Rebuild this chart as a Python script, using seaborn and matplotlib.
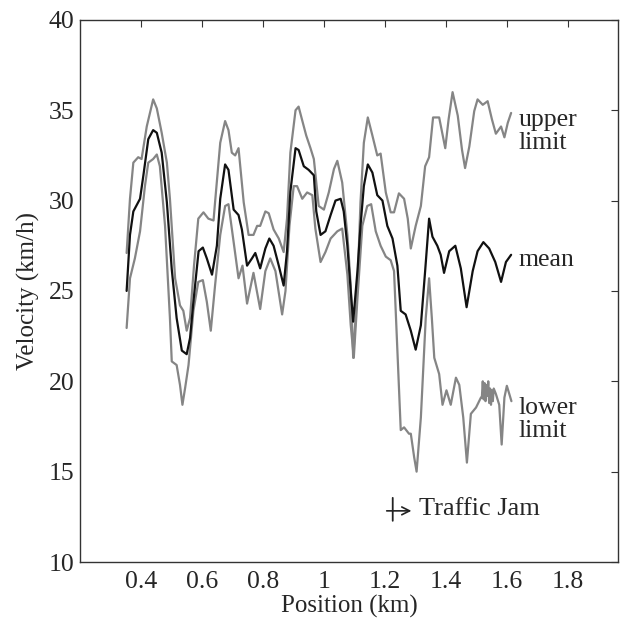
import matplotlib
matplotlib.use("Agg")
import matplotlib.pyplot as plt
import seaborn as sns

# mean velocity along the road
mean_pos = [0.353, 0.364, 0.375, 0.397, 0.408, 0.424, 0.440, 0.452, 0.468, 0.485,
            0.501, 0.517, 0.534, 0.550, 0.561, 0.572, 0.589, 0.603, 0.616, 0.633,
            0.649, 0.660, 0.676, 0.687, 0.704, 0.720, 0.731, 0.748, 0.764, 0.775,
            0.791, 0.808, 0.821, 0.835, 0.852, 0.868, 0.879, 0.890, 0.907, 0.917,
            0.934, 0.950, 0.967, 0.975, 0.989, 1.005, 1.022, 1.038, 1.055, 1.065,
            1.077, 1.088, 1.096, 1.110, 1.120, 1.131, 1.144, 1.159, 1.175, 1.192,
            1.208, 1.225, 1.241, 1.252, 1.268, 1.285, 1.301, 1.318, 1.332, 1.345,
            1.356, 1.372, 1.383, 1.394, 1.411, 1.431, 1.449, 1.468, 1.488, 1.504,
            1.523, 1.542, 1.562, 1.581, 1.597, 1.614]
mean_vel = [25.0, 28.1, 29.4, 30.1, 31.4, 33.4, 33.9, 33.75, 32.65, 29.9,
            26.2, 23.5, 21.7, 21.5, 22.4, 24.4, 27.2, 27.4, 26.8, 25.9,
            27.5, 30.1, 32.0, 31.7, 29.5, 29.2, 28.4, 26.4, 26.8, 27.1,
            26.25, 27.35, 27.9, 27.5, 26.4, 25.3, 27.2, 30.5, 32.9, 32.8,
            31.9, 31.7, 31.4, 29.4, 28.1, 28.3, 29.2, 30.0, 30.1, 29.4,
            27.5, 25.0, 23.3, 26.1, 28.6, 30.8, 32.0, 31.55, 30.3, 30.0,
            28.6, 27.9, 26.4, 23.9, 23.7, 22.8, 21.75, 23.1, 26.1, 29.0,
            28.0, 27.5, 27.0, 26.0, 27.2, 27.5, 26.25, 24.1, 26.1, 27.2,
            27.7, 27.35, 26.6, 25.5, 26.6, 27.0]

# upper limit
upper_pos = [0.353, 0.364, 0.375, 0.391, 0.402, 0.419, 0.440, 0.452, 0.468, 0.485,
             0.495, 0.512, 0.528, 0.539, 0.550, 0.561, 0.574, 0.588, 0.605, 0.621,
             0.638, 0.643, 0.660, 0.676, 0.687, 0.698, 0.709, 0.720, 0.737, 0.753,
             0.769, 0.781, 0.791, 0.808, 0.819, 0.835, 0.852, 0.868, 0.879, 0.890,
             0.907, 0.917, 0.931, 0.942, 0.956, 0.967, 0.983, 1.000, 1.016, 1.033,
             1.044, 1.060, 1.077, 1.088, 1.096, 1.110, 1.120, 1.131, 1.144, 1.159,
             1.175, 1.186, 1.203, 1.219, 1.230, 1.246, 1.263, 1.275, 1.285, 1.301,
             1.318, 1.332, 1.345, 1.358, 1.378, 1.398, 1.409, 1.422, 1.439, 1.453,
             1.463, 1.477, 1.493, 1.504, 1.521, 1.537, 1.551, 1.564, 1.581, 1.592,
             1.603, 1.614]
upper_vel = [27.1, 30.1, 32.1, 32.4, 32.3, 34.1, 35.6, 35.1, 33.75, 32.1,
             30.1, 25.7, 24.2, 23.9, 22.8, 23.5, 26.4, 29.0, 29.35, 29.0,
             28.9, 29.9, 33.2, 34.4, 33.9, 32.65, 32.5, 32.9, 29.9, 28.1,
             28.1, 28.6, 28.6, 29.4, 29.3, 28.4, 27.9, 27.15, 29.0, 32.65,
             35.0, 35.2, 34.3, 33.6, 32.9, 32.3, 29.7, 29.5, 30.45, 31.75,
             32.2, 31.0, 28.1, 25.3, 21.3, 25.3, 29.9, 33.2, 34.6, 33.6,
             32.5, 32.6, 30.45, 29.35, 29.35, 30.4, 30.1, 29.0, 27.35, 28.6,
             29.7, 31.9, 32.4, 34.6, 34.6, 32.9, 34.5, 36.0, 34.7, 32.8,
             31.8, 33.0, 34.95, 35.6, 35.3, 35.5, 34.5, 33.7, 34.1, 33.5,
             34.3, 34.85]

# lower limit
lower_pos = [0.353, 0.364, 0.380, 0.397, 0.413, 0.424, 0.440, 0.452, 0.462, 0.479,
             0.495, 0.501, 0.517, 0.528, 0.536, 0.545, 0.556, 0.572, 0.588, 0.603,
             0.616, 0.629, 0.643, 0.660, 0.676, 0.687, 0.704, 0.720, 0.733, 0.748,
             0.769, 0.791, 0.808, 0.824, 0.841, 0.863, 0.874, 0.887, 0.901, 0.912,
             0.929, 0.945, 0.962, 0.972, 0.989, 1.005, 1.022, 1.044, 1.060, 1.077,
             1.088, 1.098, 1.110, 1.126, 1.142, 1.155, 1.170, 1.186, 1.203, 1.219,
             1.230, 1.241, 1.252, 1.263, 1.279, 1.285, 1.296, 1.304, 1.318, 1.334,
             1.345, 1.354, 1.362, 1.378, 1.389, 1.402, 1.416, 1.433, 1.444, 1.457,
             1.469, 1.482, 1.499, 1.515, 1.518, 1.521, 1.524, 1.527, 1.530, 1.533,
             1.536, 1.539, 1.542, 1.545, 1.548, 1.551, 1.554, 1.557, 1.564, 1.575,
             1.583, 1.592, 1.600, 1.608, 1.615]
lower_vel = [22.95, 25.7, 26.8, 28.3, 30.8, 32.1, 32.3, 32.55, 31.9, 28.6,
             23.5, 21.1, 20.9, 19.8, 18.7, 19.65, 20.9, 23.9, 25.5, 25.6,
             24.4, 22.8, 25.3, 28.1, 29.7, 29.8, 27.7, 25.7, 26.4, 24.3,
             26.0, 24.0, 26.1, 26.8, 26.1, 23.7, 25.0, 28.6, 30.8, 30.8,
             30.1, 30.45, 30.3, 28.45, 26.6, 27.15, 27.9, 28.3, 28.45, 25.9,
             23.1, 21.3, 24.6, 28.6, 29.7, 29.8, 28.3, 27.5, 26.9, 26.7,
             26.1, 21.7, 17.3, 17.45, 17.1, 17.1, 15.8, 15.0, 18.0, 23.5,
             25.7, 23.5, 21.3, 20.4, 18.7, 19.5, 18.7, 20.2, 19.8, 18.0,
             15.5, 18.2, 18.55, 19.1, 19.1, 20.0, 19.0, 19.9, 18.9, 19.8,
             19.2, 20.0, 18.8, 19.6, 18.7, 19.5, 18.9, 19.6, 19.3, 18.7,
             16.5, 19.1, 19.75, 19.3, 18.9]

x_ticks = [0.4, 0.6, 0.8, 1.0, 1.2, 1.4, 1.6, 1.8]
x_tick_labels = ["0.4", "0.6", "0.8", "1", "1.2", "1.4", "1.6", "1.8"]
y_ticks = [10, 15, 20, 25, 30, 35, 40]

sns.set_style("white")
plt.rcParams["font.family"] = ["Liberation Serif", "DejaVu Sans"]

fig = plt.figure(figsize=(6.2, 6.21), dpi=100)
ax = fig.add_axes([0.129, 0.095, 0.868, 0.873])

gray = "#858585"
sns.lineplot(x=upper_pos, y=upper_vel, color=gray, linewidth=1.6, ax=ax)
sns.lineplot(x=lower_pos, y=lower_vel, color=gray, linewidth=1.6, ax=ax)
sns.lineplot(x=mean_pos, y=mean_vel, color="#111111", linewidth=1.6, ax=ax)

ax.set_xlim(0.2, 1.965)
ax.set_ylim(10, 40)
ax.set_xticks(x_ticks)
ax.set_xticklabels(x_tick_labels)
ax.set_yticks(y_ticks)
ax.tick_params(direction="in", length=5, width=0.8, labelsize=18.5,
               top=True, right=True, color="#333333")
ax.tick_params(axis="x", pad=6.5)
ax.tick_params(axis="y", pad=4)
for side in ax.spines.values():
    side.set_color("#333333")
    side.set_linewidth(1.0)

ax.set_xlabel("Position (km)", fontsize=18, labelpad=1)
ax.set_ylabel("Velocity (km/h)", fontsize=18, labelpad=6)

txt = dict(fontsize=18.5, ha="left", va="center", linespacing=1.05)
ax.text(1.638, 33.8, "upper\nlimit", **txt)
ax.text(1.638, 26.7, "mean", **txt)
ax.text(1.638, 17.9, "lower\nlimit", **txt)

# traffic jam marker: short bar crossed by an arrow
ax.annotate("", xy=(1.2257, 13.55), xytext=(1.2257, 12.28),
            arrowprops=dict(arrowstyle="-", lw=1.3, color="#222222",
                            shrinkA=0, shrinkB=0))
ax.annotate("", xy=(1.287, 12.83), xytext=(1.206, 12.83),
            arrowprops=dict(arrowstyle="->", lw=1.2, color="#222222",
                            shrinkA=0, shrinkB=0, mutation_scale=14))
ax.text(1.311, 12.94, "Traffic Jam", fontsize=19, ha="left", va="center")

fig.savefig("out.png", dpi=100)
